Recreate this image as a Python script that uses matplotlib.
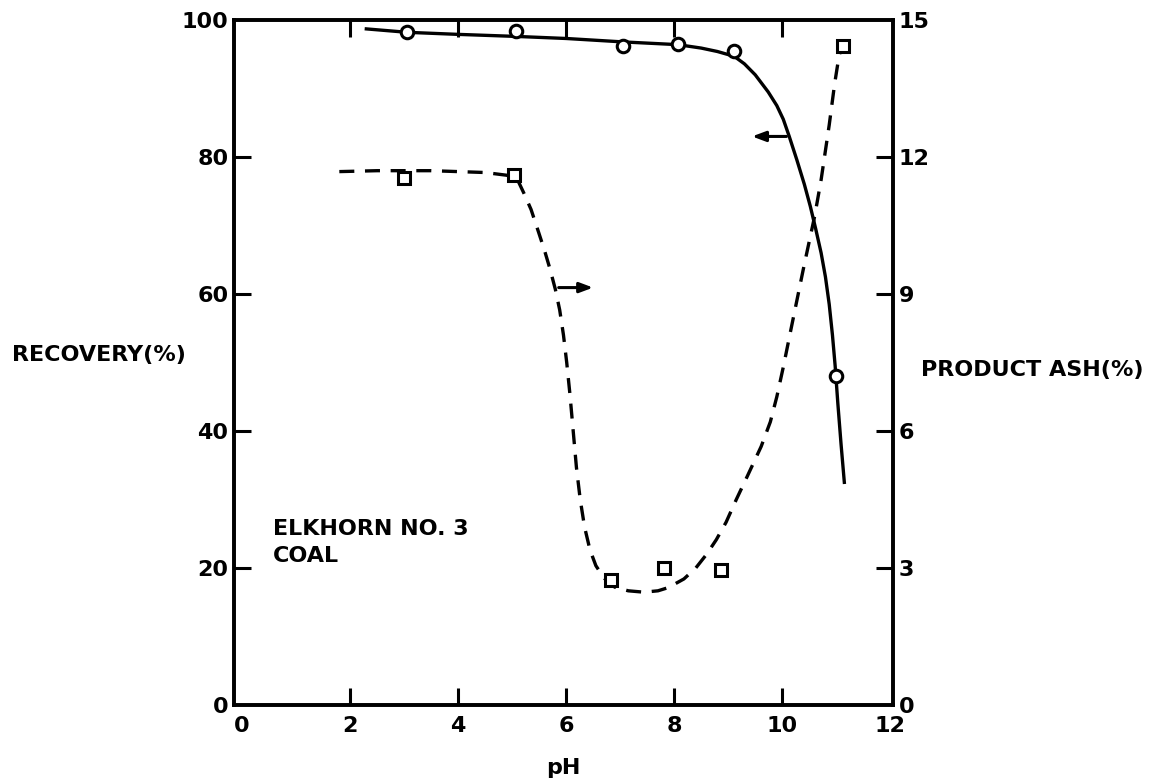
import numpy as np
import matplotlib
matplotlib.use('Agg')
import matplotlib.pyplot as plt

ph_rec = [3.06, 5.08, 7.05, 8.07, 9.11, 10.99]
recovery = [98.2, 98.4, 96.2, 96.5, 95.5, 48.0]

ph_ash = [3.0, 5.03, 6.83, 7.81, 8.87, 11.13]
ash = [11.55, 11.6, 2.74, 3.0, 2.96, 14.43]

# hand-drawn fitted curves
rec_curve_ph = [2.3, 3.06, 4.0, 5.08, 6.0, 7.05, 8.07, 8.5, 8.8, 9.11, 9.3,
                9.5, 9.74, 9.9, 10.02, 10.13, 10.27, 10.41, 10.52, 10.62,
                10.72, 10.8, 10.87, 10.93, 10.98, 11.03, 11.09, 11.15]
rec_curve = [98.7, 98.2, 97.9, 97.6, 97.3, 96.8, 96.4, 95.9, 95.4, 94.7, 93.6,
             92.0, 89.5, 87.5, 85.5, 83.0, 79.6, 76.0, 72.8, 69.5,
             66.0, 62.5, 58.5, 54.0, 49.5, 44.0, 38.0, 32.5]

ash_curve_ph = [1.8, 2.5, 3.5, 4.5, 4.9, 5.03, 5.12, 5.22, 5.35, 5.49, 5.6,
                5.7, 5.8, 5.88, 5.95, 6.01, 6.07, 6.13, 6.19, 6.26, 6.34,
                6.44, 6.55, 6.7, 6.9, 7.15, 7.44, 7.7, 7.89, 8.18, 8.4, 8.6,
                8.78, 8.96, 9.15, 9.35, 9.61, 9.78, 9.9, 10.02, 10.14, 10.27,
                10.39, 10.5, 10.6, 10.72, 10.87, 10.97, 11.05, 11.12]
ash_curve = [11.68, 11.7, 11.7, 11.66, 11.6, 11.55, 11.45, 11.2, 10.85, 10.35,
             9.95, 9.55, 9.1, 8.65, 8.1, 7.5, 6.8, 6.0, 5.2, 4.5, 3.9,
             3.4, 3.05, 2.78, 2.58, 2.5, 2.47, 2.5, 2.57, 2.76, 3.0, 3.3,
             3.62, 4.0, 4.5, 5.0, 5.66, 6.2, 6.75, 7.4, 8.1, 8.85,
             9.54, 10.15, 10.7, 11.5, 12.7, 13.6, 14.2, 14.5]

x_ticks = [0, 2, 4, 6, 8, 10, 12]
rec_ticks = [0, 20, 40, 60, 80, 100]
ash_ticks = [0, 3, 6, 9, 12, 15]

# arrows pointing to the axis each curve belongs to
rec_arrow = ((10.13, 83.0), (9.39, 83.0))
ash_arrow = ((5.81, 9.14), (6.55, 9.14))

plt.rcParams['font.family'] = 'DejaVu Sans'
plt.rcParams['font.weight'] = 'bold'
plt.rcParams['axes.labelweight'] = 'bold'
fs = 16

fig = plt.figure(figsize=(11.51, 7.84), dpi=100)
ax = fig.add_axes([0.2033, 0.1008, 0.5725, 0.8737])
ax2 = ax.twinx()

ax.plot(rec_curve_ph, rec_curve, color='black', lw=2.4)
ax.plot(ph_rec, recovery, 'o', ms=9, mfc='white', mec='black', mew=2.2)

ax2.plot(ash_curve_ph, ash_curve, color='black', lw=2.4, dashes=(4.5, 3.2))
ax2.plot(ph_ash, ash, 's', ms=8, mfc='white', mec='black', mew=2.2)

ax.annotate('', xy=rec_arrow[1], xytext=rec_arrow[0],
            arrowprops=dict(arrowstyle='-|>,head_length=0.8,head_width=0.3',
                            color='black', lw=2.2))
ax2.annotate('', xy=ash_arrow[1], xytext=ash_arrow[0],
             arrowprops=dict(arrowstyle='-|>,head_length=0.8,head_width=0.3',
                             color='black', lw=2.2))

ax.set_xlim(-0.15, 12.05)
ax.set_ylim(0, 100)
ax2.set_ylim(0, 15)

ax.set_xticks(x_ticks)
ax.set_yticks(rec_ticks)
ax2.set_yticks(ash_ticks)
ax.tick_params(axis='x', direction='in', length=12, width=2.2, labelsize=fs,
               pad=8, top=True)
ax.tick_params(axis='y', direction='in', length=12, width=2.2, labelsize=fs,
               pad=4)
ax2.tick_params(axis='y', direction='in', length=12, width=2.2, labelsize=fs,
                pad=4)

# no tick marks where the ticks sit on a spine
for axis in (ax.xaxis, ax.yaxis, ax2.yaxis):
    ticks = axis.get_major_ticks()
    for t in (ticks[0], ticks[-1]):
        t.tick1line.set_visible(False)
        t.tick2line.set_visible(False)

for a in (ax, ax2):
    for s in a.spines.values():
        s.set_linewidth(2.6)

ax.set_xlabel('pH', fontsize=fs, labelpad=16)

fig.text(0.010, 0.547, 'RECOVERY(%)', fontsize=fs, va='center', ha='left')
fig.text(0.800, 0.528, 'PRODUCT ASH(%)', fontsize=fs, va='center', ha='left')
ax.text(0.57, 27.2, 'ELKHORN NO. 3\nCOAL', fontsize=fs, va='top', ha='left',
        linespacing=1.45)

fig.savefig('out.png', dpi=100)
